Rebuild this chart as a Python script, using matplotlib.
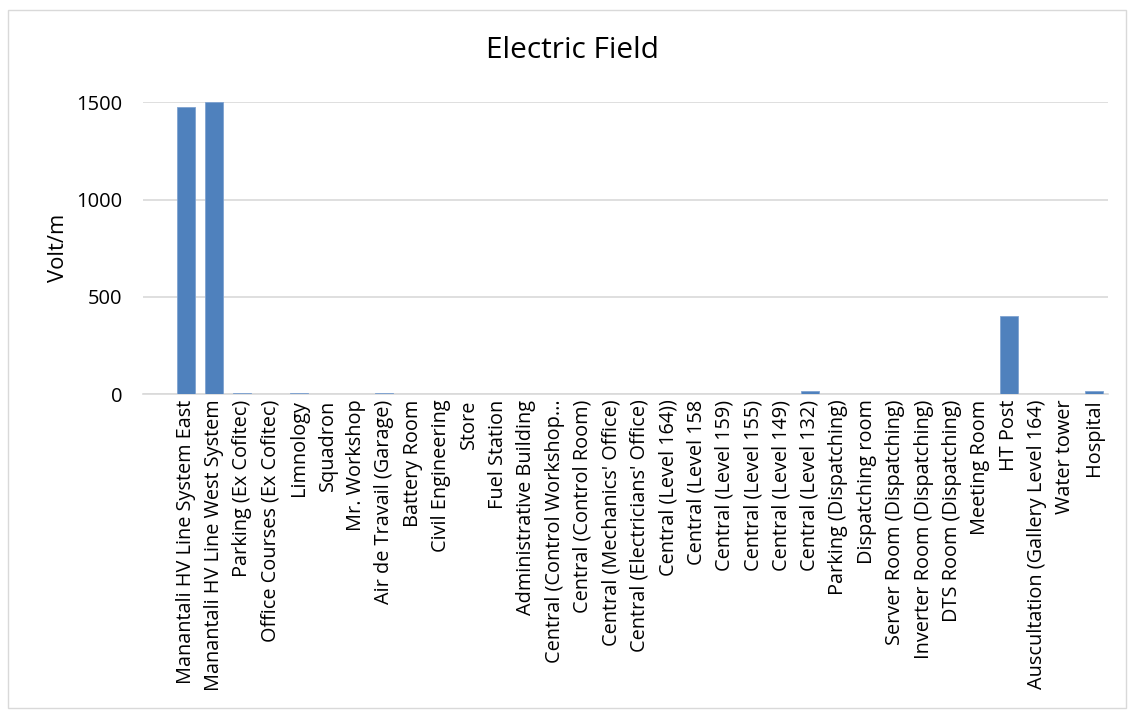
import numpy as np
import matplotlib.pyplot as plt
from matplotlib.patches import Rectangle

plt.rcParams['font.family'] = ['Open Sans', 'DejaVu Sans']

# Measurement sites and the electric field measured at each one (V/m)
sites = [
    "Manantali HV Line System East", "Manantali HV Line West System",
    "Parking (Ex Cofitec)", "Office Courses (Ex Cofitec)", "Limnology",
    "Squadron", "Mr. Workshop", "Air de Travail (Garage)", "Battery Room",
    "Civil Engineering", "Store", "Fuel Station", "Administrative Building",
    "Central (Control Workshop...", "Central (Control Room)",
    "Central (Mechanics' Office)", "Central (Electricians' Office)",
    "Central (Level 164))", "Central (Level 158", "Central (Level 159)",
    "Central (Level 155)", "Central (Level 149)", "Central (Level 132)",
    "Parking (Dispatching)", "Dispatching room", "Server Room (Dispatching)",
    "Inverter Room (Dispatching)", "DTS Room (Dispatching)", "Meeting Room",
    "HT Post", "Auscultation (Gallery Level 164)", "Water tower", "Hospital",
]
field = [1475, 1500, 3, 0.3, 4, 0.3, 0.3, 4, 0.3, 0.3, 0.3, 0.3, 0.3,
         0.3, 0.3, 0.3, 0.3, 0.3, 0.3, 0.3, 0.3, 0.3, 14, 0.3, 0.3, 0.3,
         0.3, 0.3, 0.3, 400, 0.3, 0.3, 18]
yticks = [0, 500, 1000, 1500]

fig = plt.figure(figsize=(11.34, 7.1), dpi=100)
ax = fig.add_axes([143 / 1134, 0.445, 965 / 1134, 0.411])

x = np.arange(len(sites))
ax.bar(x, field, width=0.63, color='#4f81bd', edgecolor='#7fa3d1',
       linewidth=0.6, zorder=3)

# one empty slot before the first site
ax.set_xlim(-1.5, len(sites) - 0.5)
ax.set_ylim(0, 1500)
ax.set_yticks(yticks)
ax.set_yticklabels([str(v) for v in yticks], fontsize=14.5)
ax.set_xticks(x)
ax.set_xticklabels(sites, rotation=90, fontsize=14.3)
ax.tick_params(axis='y', length=0, pad=15)
ax.tick_params(axis='x', length=0, pad=4)

ax.grid(axis='y', color='#d9d9d9', linewidth=1.2, zorder=0)
for s in ['top', 'right', 'left']:
    ax.spines[s].set_visible(False)
ax.spines['bottom'].set_color('#d9d9d9')
ax.spines['bottom'].set_linewidth(1.2)

ax.set_ylabel("Volt/m", fontsize=15.8, labelpad=5)
fig.text(572 / 1134, 1 - 50 / 710, "Electric Field", ha='center', va='center',
         fontsize=21.5)

# thin frame around the chart area
fig.patches.append(Rectangle((8 / 1134, 2 / 710), 1118 / 1134, 698 / 710,
                             transform=fig.transFigure, fill=False,
                             edgecolor='#d9d9d9', linewidth=1))

fig.savefig("out.png", dpi=100)
